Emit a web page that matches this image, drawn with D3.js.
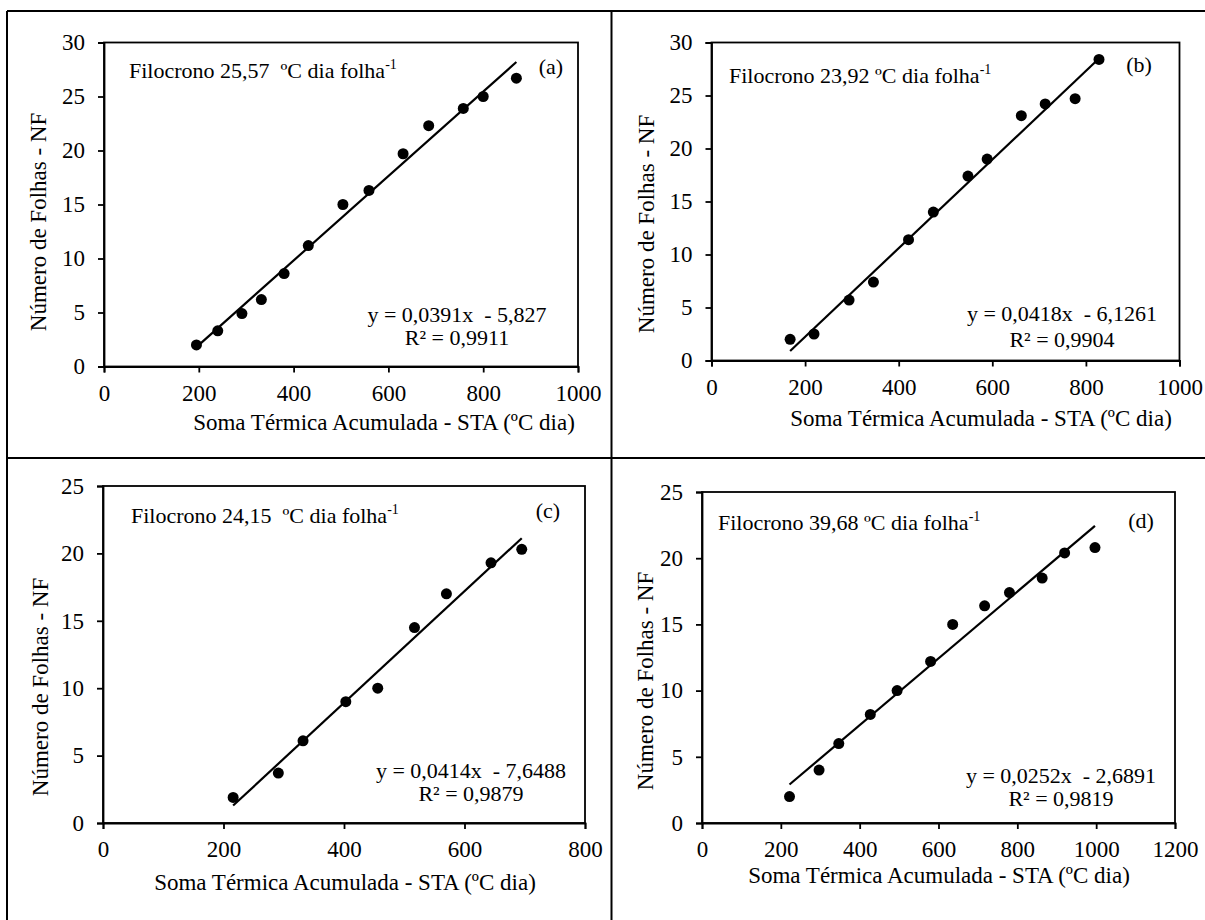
<!DOCTYPE html>
<html>
<head>
<meta charset="utf-8">
<script src="https://cdn.jsdelivr.net/npm/d3@7"></script>
<style>
  html, body { margin: 0; padding: 0; background: #fff; }
  svg text { font-family: "Liberation Serif", "Times New Roman", serif; fill: #000; white-space: pre; }
</style>
</head>
<body>
<svg id="chart" width="1205" height="920"></svg>
<script>
// ---------------- DATA ----------------
const panelIds = ["(a)", "(b)", "(c)", "(d)"];

const staA = [195, 240, 291, 332, 380, 431, 504, 559, 631, 685, 758, 800, 870];
const nfA  = [2.0, 3.3, 4.9, 6.2, 8.6, 11.2, 15.0, 16.3, 19.7, 22.3, 23.9, 25.0, 26.7];

const staB = [168, 219, 294, 346, 421, 474, 548, 589, 662, 713, 777, 828];
const nfB  = [2.0, 2.5, 5.7, 7.4, 11.4, 14.0, 17.4, 19.0, 23.1, 24.2, 24.7, 28.4];

const staC = [216, 291, 332, 403, 456, 517, 570, 644, 695];
const nfC  = [1.9, 3.7, 6.1, 9.0, 10.0, 14.5, 17.0, 19.3, 20.3];

const staD = [222, 297, 347, 427, 495, 580, 636, 717, 780, 863, 920, 997];
const nfD  = [2.0, 4.0, 6.0, 8.2, 10.0, 12.2, 15.0, 16.4, 17.4, 18.5, 20.4, 20.8];

const slopes     = [0.0391, 0.0418, 0.0414, 0.0252];
const intercepts = [-5.827, -6.1261, -7.6488, -2.6891];
const eqLabels   = ["y = 0,0391x  - 5,827", "y = 0,0418x  - 6,1261", "y = 0,0414x  - 7,6488", "y = 0,0252x  - 2,6891"];
const r2Labels   = ["R² = 0,9911", "R² = 0,9904", "R² = 0,9879", "R² = 0,9819"];
const filoLabels = ["Filocrono 25,57  ºC dia folha", "Filocrono 23,92 ºC dia folha", "Filocrono 24,15  ºC dia folha", "Filocrono 39,68 ºC dia folha"];

const xTicksAB = [0, 200, 400, 600, 800, 1000];
const xTicksC  = [0, 200, 400, 600, 800];
const xTicksD  = [0, 200, 400, 600, 800, 1000, 1200];
const yTicksAB = [0, 5, 10, 15, 20, 25, 30];
const yTicksCD = [0, 5, 10, 15, 20, 25];

const xTitle = "Soma Térmica Acumulada - STA (ºC dia)";
const yTitle = "Número de Folhas - NF";

// ---------------- LAYOUT ----------------
const layouts = [
  { box: [104, 578, 42.5, 366.5], filo: [129, 70], tag: [551, 66], eq: [457, 314, 337], xt: [384, 422], yt: [38, 222] },
  { box: [711.5, 1179.5, 42.5, 360.5], filo: [729, 75], tag: [1139, 64], eq: [1062, 313, 339], xt: [981, 418], yt: [646, 224] },
  { box: [103, 585, 486, 823], filo: [131, 515], tag: [548, 510], eq: [471, 770, 793], xt: [345, 882], yt: [40, 687] },
  { box: [702, 1175, 492, 823], filo: [718, 522], tag: [1141, 520], eq: [1061, 775, 798], xt: [939, 875], yt: [645, 681] }
];

const panelData = [
  { sta: staA, nf: nfA, xMax: 1000, xTicks: xTicksAB, yMax: 30, yTicks: yTicksAB },
  { sta: staB, nf: nfB, xMax: 1000, xTicks: xTicksAB, yMax: 30, yTicks: yTicksAB },
  { sta: staC, nf: nfC, xMax: 800,  xTicks: xTicksC,  yMax: 25, yTicks: yTicksCD },
  { sta: staD, nf: nfD, xMax: 1200, xTicks: xTicksD,  yMax: 25, yTicks: yTicksCD }
];

const svg = d3.select("#chart");
svg.append("rect").attr("x", 0).attr("y", 0).attr("width", 1205).attr("height", 920).attr("fill", "#fff");

// frame / table lines
const frame = svg.append("g").attr("stroke", "#000").attr("stroke-width", 2);
frame.append("line").attr("x1", 7).attr("x2", 1205).attr("y1", 11).attr("y2", 11);
frame.append("line").attr("x1", 7).attr("x2", 7).attr("y1", 11).attr("y2", 920);
frame.append("line").attr("x1", 611.5).attr("x2", 611.5).attr("y1", 11).attr("y2", 920);
frame.append("line").attr("x1", 7).attr("x2", 1205).attr("y1", 458).attr("y2", 458);

panelData.forEach((p, i) => {
  const L = layouts[i];
  const [x0, x1, y0, y1] = L.box;
  const x = d3.scaleLinear().domain([0, p.xMax]).range([x0, x1]);
  const y = d3.scaleLinear().domain([0, p.yMax]).range([y1, y0]);
  const g = svg.append("g");

  // plot box
  g.append("rect").attr("x", x0).attr("y", y0).attr("width", x1 - x0).attr("height", y1 - y0)
    .attr("fill", "none").attr("stroke", "#000").attr("stroke-width", 1.8);

  const fmt = d3.format("d");
  const xa = g.append("g").attr("transform", `translate(0,${y1})`)
    .call(d3.axisBottom(x).tickValues(p.xTicks).tickFormat(fmt).tickSize(6).tickPadding(12));
  const ya = g.append("g").attr("transform", `translate(${x0},0)`)
    .call(d3.axisLeft(y).tickValues(p.yTicks).tickFormat(fmt).tickSize(6).tickPadding(13));
  [xa, ya].forEach(a => {
    a.select(".domain").attr("stroke", "#000").attr("stroke-width", 1.8);
    a.selectAll(".tick line").attr("stroke", "#000").attr("stroke-width", 1.8);
    a.selectAll("text").attr("font-size", 23).attr("fill", "#000");
  });

  // fitted line
  const xs = d3.extent(p.sta);
  g.append("line")
    .attr("x1", x(xs[0])).attr("y1", y(slopes[i] * xs[0] + intercepts[i]))
    .attr("x2", x(xs[1])).attr("y2", y(slopes[i] * xs[1] + intercepts[i]))
    .attr("stroke", "#000").attr("stroke-width", 2.2);

  // points
  g.selectAll("circle.pt").data(p.sta.map((s, k) => [s, p.nf[k]])).enter()
    .append("circle").attr("class", "pt")
    .attr("cx", d => x(d[0])).attr("cy", d => y(d[1])).attr("r", 5.5).attr("fill", "#000");

  // filocrono label
  const ft = g.append("text").attr("x", L.filo[0]).attr("y", L.filo[1]).attr("dy", "0.35em")
    .attr("font-size", 22);
  ft.append("tspan").text(filoLabels[i]);
  ft.append("tspan").attr("font-size", 14).attr("dy", -9).text("-1");

  // panel tag
  g.append("text").attr("x", L.tag[0]).attr("y", L.tag[1]).attr("dy", "0.35em")
    .attr("text-anchor", "middle").attr("font-size", 22).text(panelIds[i]);

  // equation
  g.append("text").attr("x", L.eq[0]).attr("y", L.eq[1]).attr("dy", "0.35em")
    .attr("text-anchor", "middle").attr("font-size", 22).text(eqLabels[i]);
  g.append("text").attr("x", L.eq[0]).attr("y", L.eq[2]).attr("dy", "0.35em")
    .attr("text-anchor", "middle").attr("font-size", 22).text(r2Labels[i]);

  // axis titles
  g.append("text").attr("x", L.xt[0]).attr("y", L.xt[1]).attr("dy", "0.35em")
    .attr("text-anchor", "middle").attr("font-size", 23).text(xTitle);
  g.append("text").attr("transform", `translate(${L.yt[0]},${L.yt[1]}) rotate(-90)`).attr("dy", "0.35em")
    .attr("text-anchor", "middle").attr("font-size", 23).text(yTitle);
});
</script>
</body>
</html>
